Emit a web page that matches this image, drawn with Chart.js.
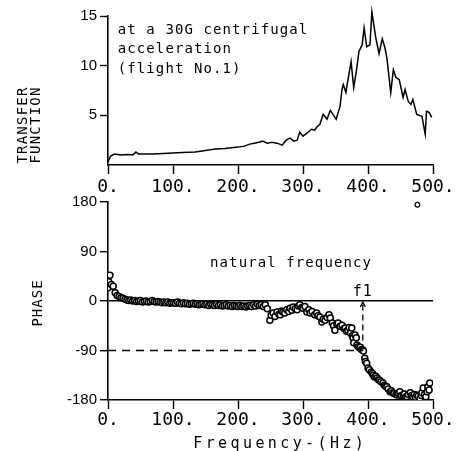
<!DOCTYPE html>
<html>
<head>
<meta charset="utf-8">
<script src="https://cdn.jsdelivr.net/npm/chart.js@4.4.1/dist/chart.umd.min.js"></script>
<style>
  body { margin: 0; background: #fff; }
  #wrap { position: relative; width: 461px; height: 451px; }
  canvas { position: absolute; left: 0; }
</style>
</head>
<body>
<div id="wrap">
  <canvas id="tfChart" width="461" height="200" style="top:0"></canvas>
  <canvas id="phaseChart" width="461" height="261" style="top:190px"></canvas>
</div>
<script>
// transfer function (upper plot)
const tfHz = [0, 4, 10, 20, 30, 38, 43, 47, 55, 70, 85, 100, 115, 134, 150, 165, 180, 200, 210, 218,
  225, 232, 238, 245, 252, 260, 268, 274, 280, 286, 291, 295, 300, 306, 313, 318, 321, 326, 331, 337,
  342, 346, 351, 357, 360, 362, 366, 370, 374, 378, 382, 386, 391, 394, 398, 403, 406, 412, 417, 422,
  426, 429, 435, 439, 443, 448, 454, 457, 462, 466, 469, 475, 483, 488, 490, 494, 498];
const tfVal = [0.3, 0.9, 1.1, 1.0, 1.05, 1.0, 1.3, 1.1, 1.1, 1.1, 1.15, 1.2, 1.25, 1.3, 1.45, 1.6, 1.65, 1.8, 1.9, 2.1,
  2.2, 2.3, 2.4, 2.2, 2.3, 2.2, 2.0, 2.5, 2.7, 2.4, 2.5, 3.3, 2.9, 3.2, 3.6, 3.5, 3.8, 4.1, 5.1, 4.6,
  5.5, 5.1, 4.6, 5.9, 7.6, 8.1, 7.3, 8.9, 10.4, 7.8, 9.4, 11.4, 12.1, 13.8, 11.9, 12.1, 15.4, 12.8, 11.2, 12.7,
  11.8, 10.8, 7.3, 9.6, 8.8, 8.6, 6.8, 7.6, 6.4, 6.1, 6.6, 5.1, 4.9, 3.1, 5.4, 5.3, 4.8];
const tfTicks = [5, 10, 15];

// phase (lower plot)
const phaseHz = [0, 1, 3, 5, 8, 11, 14, 17, 20, 23, 26, 29, 32, 35, 38, 41, 44, 47, 50, 53,
  56, 59, 62, 65, 68, 71, 74, 77, 80, 83, 86, 89, 92, 95, 98, 101, 104, 107, 110, 113,
  116, 119, 122, 125, 128, 131, 134, 137, 140, 143, 146, 149, 152, 155, 158, 161, 164, 167, 170, 173,
  176, 179, 182, 185, 188, 191, 194, 197, 200, 203, 206, 209, 212, 215, 218, 221, 224, 227, 230, 233,
  236, 239, 242, 245, 249, 251, 254, 257, 260, 263, 265, 267, 269, 272, 275, 278, 280, 283, 285, 288,
  291, 293, 295, 298, 300, 303, 306, 309, 311, 314, 318, 321, 323, 326, 329, 331, 334, 337, 340, 342,
  345, 347, 349, 352, 354, 357, 360, 363, 365, 367, 369, 371, 373, 375, 376, 377, 378, 380, 382, 383,
  385, 387, 388, 390, 392, 393, 395, 396, 398, 400, 402, 405, 407, 408, 410, 412, 414, 416, 418, 420,
  423, 425, 427, 429, 431, 434, 436, 438, 440, 443, 445, 447, 449, 451, 454, 456, 458, 460, 462, 465,
  467, 469, 471, 473, 475, 477, 480, 482, 483, 485, 487, 489, 491, 492, 494, 495];
const phaseDeg = [24, 35, 47, 30, 27, 15, 10, 8, 6, 5, 3, 2, 1, 2, 0, 1, -1, 0, 1, -2,
  -1, 0, -2, -1, 1, -1, -2, -1, -2, -3, -2, -3, -2, -4, -3, -3, -4, -2, -4, -5,
  -3, -5, -4, -6, -5, -4, -6, -5, -7, -6, -5, -7, -6, -8, -6, -7, -8, -6, -8, -7,
  -9, -8, -7, -9, -8, -10, -8, -9, -10, -8, -10, -9, -11, -9, -8, -10, -7, -9, -6, -8,
  -7, -10, -7, -14, -35, -26, -22, -28, -20, -24, -25, -18, -20, -22, -16, -19, -13, -17, -11, -14,
  -16, -9, -7, -12, -13, -10, -20, -16, -22, -19, -25, -22, -27, -29, -38, -33, -35, -30, -25, -31,
  -40, -45, -53, -42, -40, -46, -44, -50, -49, -55, -53, -48, -58, -49, -63, -67, -76, -62, -67, -80,
  -83, -85, -84, -88, -89, -91, -104, -110, -113, -122, -125, -129, -132, -135, -138, -137, -140, -143, -144, -147,
  -149, -153, -155, -156, -160, -165, -163, -167, -168, -170, -171, -168, -165, -172, -171, -169, -174, -174, -170, -167,
  -172, -174, -170, -175, -171, -173, -177, -172, -167, -158, -170, -174, -165, -156, -162, -149];
const strayHz = [476];
const strayDeg = [175];
const phaseTicks = [-180, -90, 0, 90, 180];
const f1Hz = 392;

const mono = 'DejaVu Sans Mono';

function drawText(ctx, text, x, y, opts) {
  ctx.save();
  ctx.font = (opts.size || 14) + 'px "' + mono + '"';
  ctx.letterSpacing = (opts.spacing || 0) + 'px';
  ctx.fillStyle = '#000';
  ctx.textAlign = opts.align || 'left';
  ctx.textBaseline = 'middle';
  ctx.translate(x, y);
  if (opts.rotate) ctx.rotate(-Math.PI / 2);
  ctx.fillText(text, 0, 0);
  ctx.restore();
}

const tfLabels = {
  id: 'tfLabels',
  afterDraw(chart) {
    const { ctx, scales: { x, y } } = chart;
    const left = x.getPixelForValue(15);
    drawText(ctx, 'at a 30G centrifugal', left, y.getPixelForValue(13.6), { spacing: 1.1 });
    drawText(ctx, 'acceleration', left, y.getPixelForValue(11.6), { spacing: 1.1 });
    drawText(ctx, '(flight No.1)', left, y.getPixelForValue(9.6), { spacing: 1.1 });
    drawText(ctx, 'TRANSFER', 23, 125, { spacing: 1.2, align: 'center', rotate: true });
    drawText(ctx, 'FUNCTION', 36, 125, { spacing: 1.2, align: 'center', rotate: true });
  }
};

const phaseLabels = {
  id: 'phaseLabels',
  afterDraw(chart) {
    const { ctx, scales: { x, y } } = chart;
    const xf = x.getPixelForValue(f1Hz);
    const y90 = y.getPixelForValue(-90);
    const y0 = y.getPixelForValue(0);
    ctx.save();
    ctx.strokeStyle = '#000';
    ctx.lineWidth = 1.3;
    ctx.setLineDash([8, 6]);
    ctx.beginPath();
    ctx.moveTo(x.getPixelForValue(0), y90);
    ctx.lineTo(xf, y90);
    ctx.stroke();
    ctx.setLineDash([6, 4]);
    ctx.beginPath();
    ctx.moveTo(xf, y90);
    ctx.lineTo(xf, y0 + 3);
    ctx.stroke();
    ctx.setLineDash([]);
    ctx.beginPath();
    ctx.moveTo(xf - 2.5, y0 + 6);
    ctx.lineTo(xf, y0 + 1);
    ctx.lineTo(xf + 2.5, y0 + 6);
    ctx.stroke();
    ctx.restore();
    drawText(ctx, 'natural frequency', x.getPixelForValue(157), y.getPixelForValue(69), { spacing: 1.1 });
    drawText(ctx, 'f1', xf, y.getPixelForValue(16), { size: 15, spacing: 1, align: 'center' });
    drawText(ctx, 'PHASE', 38, 113, { spacing: 1.0, align: 'center', rotate: true });
    drawText(ctx, 'Frequency-(Hz)', x.getPixelForValue(265), 254, { size: 15, spacing: 3.4, align: 'center' });
  }
};

function xAxis(height, pad) {
  return {
    type: 'linear', min: 0, max: 500,
    afterFit: s => { s.height = height; },
    ticks: { stepSize: 100, autoSkip: false, maxRotation: 0, callback: v => v + '.',
      color: '#000', font: { family: mono, size: 18 }, padding: pad },
    grid: { drawOnChartArea: false, tickLength: 9, tickColor: '#000', tickWidth: 1.4 },
    border: { color: '#000', width: 1.6 }
  };
}

new Chart(document.getElementById('tfChart'), {
  type: 'line',
  data: {
    datasets: [{
      data: tfHz.map((hz, i) => ({ x: hz, y: tfVal[i] })),
      borderColor: '#000',
      borderWidth: 1.5,
      pointRadius: 0,
      tension: 0,
      clip: false
    }]
  },
  options: {
    responsive: false,
    animation: false,
    layout: { padding: { left: 0, right: 28, top: 16, bottom: 0 } },
    plugins: { legend: { display: false }, tooltip: { enabled: false } },
    scales: {
      x: xAxis(35, 3),
      y: {
        min: 0, max: 15,
        afterFit: s => { s.width = 108; },
        afterBuildTicks: s => { s.ticks = tfTicks.map(v => ({ value: v })); },
        ticks: { color: '#000', font: { family: 'Liberation Sans', size: 15 }, padding: 3 },
        grid: { drawOnChartArea: false, tickLength: 8, tickColor: '#000', tickWidth: 1.4 },
        border: { color: '#000', width: 1.6 }
      }
    }
  },
  plugins: [tfLabels]
});

new Chart(document.getElementById('phaseChart'), {
  type: 'scatter',
  data: {
    datasets: [{
      data: phaseHz.map((hz, i) => ({ x: hz, y: phaseDeg[i] })),
      borderColor: '#000',
      backgroundColor: '#fff',
      borderWidth: 1.5,
      pointRadius: 3
    }, {
      data: strayHz.map((hz, i) => ({ x: hz, y: strayDeg[i] })),
      borderColor: '#000',
      backgroundColor: '#fff',
      borderWidth: 1.2,
      pointRadius: 2.3,
      clip: false
    }]
  },
  options: {
    responsive: false,
    animation: false,
    layout: { padding: { left: 0, right: 28, top: 12, bottom: 0 } },
    plugins: { legend: { display: false }, tooltip: { enabled: false } },
    scales: {
      x: xAxis(51, 1),
      y: {
        min: -180, max: 180,
        afterFit: s => { s.width = 108; },
        afterBuildTicks: s => { s.ticks = phaseTicks.map(v => ({ value: v })); },
        ticks: { color: '#000', font: { family: 'Liberation Sans', size: 15 }, padding: 3 },
        grid: {
          drawOnChartArea: true, tickLength: 8, tickColor: '#000', tickWidth: 1.4,
          color: c => (c.tick && c.tick.value === 0 ? '#000' : 'rgba(0,0,0,0)'),
          lineWidth: 1.4
        },
        border: { color: '#000', width: 1.6 }
      }
    }
  },
  plugins: [phaseLabels]
});
</script>
</body>
</html>
